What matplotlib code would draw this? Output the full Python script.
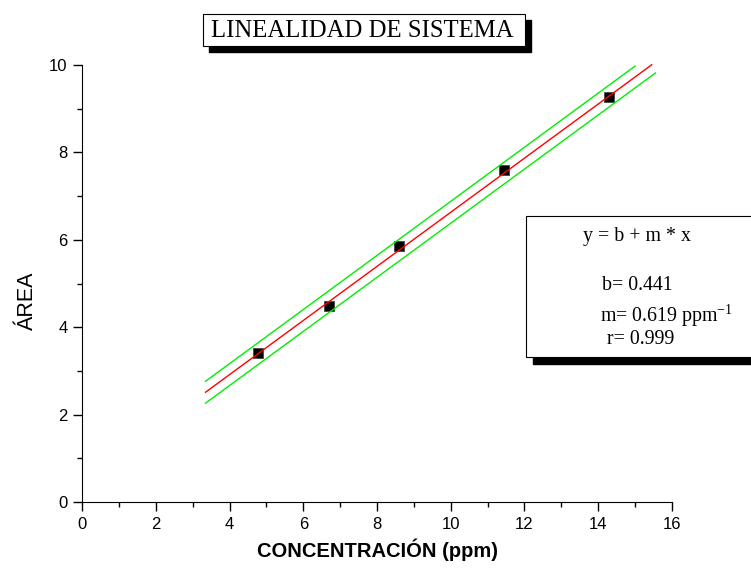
import numpy as np
import matplotlib.pyplot as plt
from matplotlib.patches import Rectangle

# measured points
conc = [4.78, 6.70, 8.60, 11.45, 14.30]
area = [3.42, 4.48, 5.85, 7.60, 9.27]

# fit results shown in the box
b = 0.441
m = 0.619
r = 0.999

# range of fitted line and band half-width
fit_x = [3.35, 15.45]
upper_x = [3.35, 15.0]
lower_x = [3.35, 15.55]
band = 0.25

fig = plt.figure(figsize=(7.51, 5.70), dpi=100)
ax = fig.add_axes([0.1092, 0.1190, 0.7856, 0.767])

sans = ['Liberation Sans', 'DejaVu Sans']
serif = ['Liberation Serif', 'DejaVu Serif']

ax.plot(conc, area, 's', color='black', markersize=6.5, markeredgecolor='#444444',
        markeredgewidth=0.6, zorder=2, clip_on=False)
fx = np.array(fit_x)
ax.plot(fx, b + m * fx, color='red', lw=1, zorder=3, clip_on=False)
ux = np.array(upper_x)
ax.plot(ux, b + m * ux + band, color='#00ee00', lw=1, zorder=3, clip_on=False)
lx = np.array(lower_x)
ax.plot(lx, b + m * lx - band, color='#00ee00', lw=1, zorder=3, clip_on=False)

ax.set_xlim(0, 16)
ax.set_ylim(0, 10)
ax.set_xticks(range(0, 17, 2))
ax.set_xticks(range(1, 16, 2), minor=True)
ax.set_yticks(range(0, 11, 2))
ax.set_yticks(range(1, 10, 2), minor=True)
for s in ['top', 'right']:
    ax.spines[s].set_visible(False)
ax.tick_params(which='major', direction='out', length=6.5, width=1, labelsize=12)
ax.tick_params(axis='x', which='major', pad=4)
ax.tick_params(axis='y', which='major', pad=4)
ax.tick_params(which='minor', direction='out', length=3.3, width=1)
for lab in ax.get_xticklabels() + ax.get_yticklabels():
    lab.set_family(sans)

ax.set_xlabel('CONCENTRACIÓN (ppm)', family=sans, fontweight='bold', fontsize=14.5)
ax.xaxis.set_label_coords(0.5, -0.083)
ax.set_ylabel('ÁREA', family=sans, fontsize=15.5)
ax.yaxis.set_label_coords(-0.075, 0.46)

W, H = 751, 570

def fbox(x0, y0, x1, y1, sh=6):
    # shadow then white box, pixel coords from top-left
    fig.patches.append(Rectangle(((x0 + sh) / W, 1 - (y1 + sh) / H), (x1 - x0) / W, (y1 - y0) / H,
                                 transform=fig.transFigure, facecolor='black', edgecolor='black', zorder=5))
    fig.patches.append(Rectangle((x0 / W, 1 - y1 / H), (x1 - x0) / W, (y1 - y0) / H,
                                 transform=fig.transFigure, facecolor='white', edgecolor='black', lw=0.8, zorder=6))

fbox(203, 14, 525, 46)
fig.text(362 / W, 1 - 31 / H, 'LINEALIDAD DE SISTEMA', family=serif, fontsize=17.8,
         ha='center', va='center', zorder=7)

fbox(526, 216, 760, 357, sh=7)
fs = 14.3
fig.text(637 / W, 1 - 237 / H, 'y = b + m * x', family=serif, fontsize=fs, ha='center', va='center', zorder=7)
fig.text(602 / W, 1 - 285 / H, 'b= %.3f' % b, family=serif, fontsize=fs, ha='left', va='center', zorder=7)
fig.text(600 / W, 1 - 316 / H, 'm= %.3f ppm$^{\\mathregular{-1}}$' % m, family=serif, fontsize=fs,
         ha='left', va='center', zorder=7)
fig.text(607 / W, 1 - 340 / H, 'r= %.3f' % r, family=serif, fontsize=fs, ha='left', va='center', zorder=7)

fig.savefig('out.png', dpi=100)
